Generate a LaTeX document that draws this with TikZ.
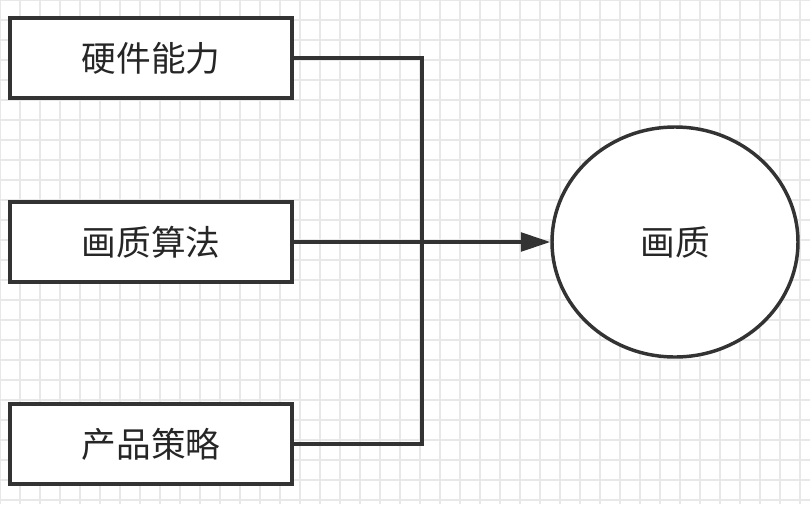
\documentclass[tikz,border=0pt]{standalone}
\usepackage{fontspec}
\newfontfamily\cjk{Noto Sans CJK SC}
\usetikzlibrary{arrows.meta,shapes.geometric}
\begin{document}
\begin{tikzpicture}[x=0.75pt,y=-0.75pt,
  box/.style={draw=black!80,line width=2.6pt,minimum width=282*0.75pt,minimum height=80*0.75pt,fill=white,font=\cjk\fontsize{26pt}{30pt}\selectfont,text=black!85},
  wire/.style={draw=black!80,line width=2.6pt}]
\fill[white] (0,0) rectangle (810,504);
\useasboundingbox (0,0) rectangle (810,504);
\foreach \i in {0,20,...,800} \draw[black!9,line width=0.9pt] (\i,0) -- (\i,504);
\foreach \j in {0,20,...,500} \draw[black!9,line width=0.9pt] (0,\j) -- (810,\j);
\node[box] (a) at (151,58) {硬件能力};
\node[box] (b) at (151,242) {画质算法};
\node[box] (c) at (151,444) {产品策略};
\node[draw=black!80,line width=2.6pt,ellipse,minimum width=246*0.75pt,minimum height=230*0.75pt,inner sep=0,fill=white,font=\cjk\fontsize{26pt}{30pt}\selectfont,text=black!85] (q) at (675,242) {画质};
\coordinate (j) at (422,242);
\draw[wire] (a.east) -| (j);
\draw[wire] (c.east) -| (j);
\draw[wire,-{Triangle[length=22pt,width=14pt]}] (b.east) -- (q.west);
\end{tikzpicture}
\end{document}
